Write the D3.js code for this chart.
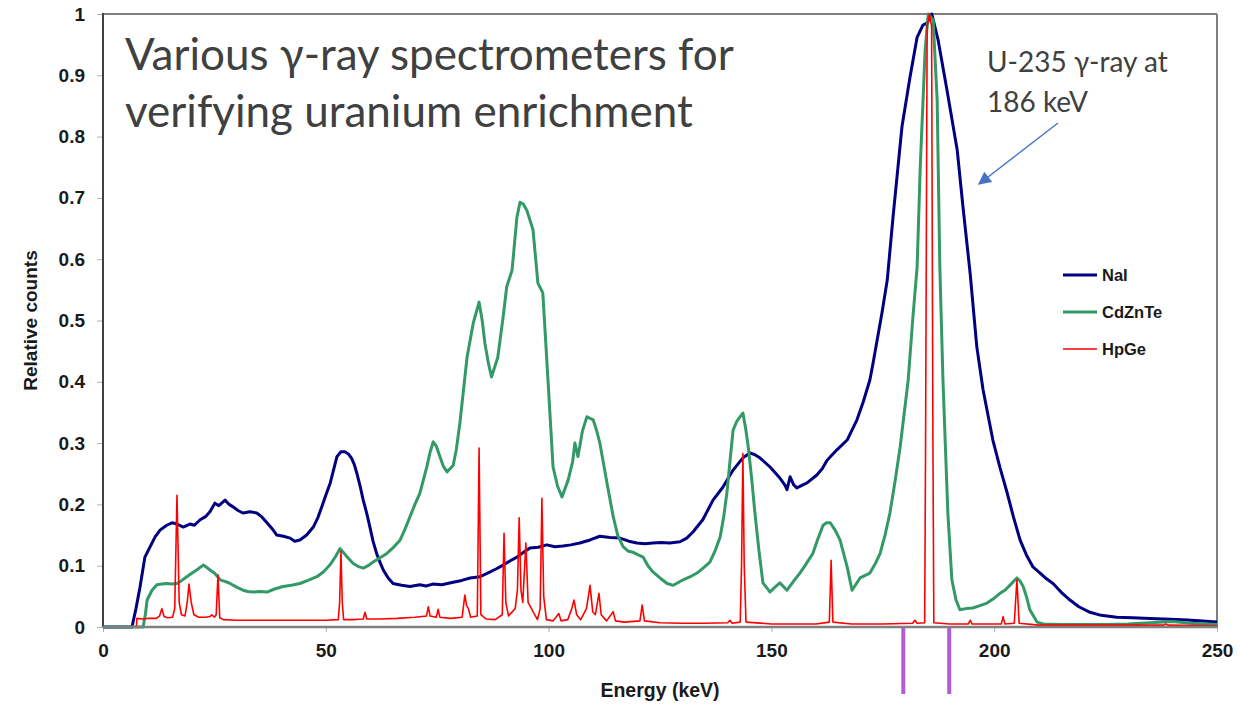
<!DOCTYPE html>
<html>
<head>
<meta charset="utf-8">
<script src="https://cdn.jsdelivr.net/npm/d3@7"></script>
<style>
  body { margin: 0; background: #fff; }
  svg { display: block; }
  .tick-label { font-family: "Liberation Sans", Arial, sans-serif; font-weight: bold; font-size: 19px; fill: #1a1a1a; }
</style>
</head>
<body>
<script>
// energy (keV), relative counts
var naiData = [[0,0],[6.5,0],[7.4,0.03],[8.3,0.065],[9.4,0.114],[10.5,0.13],[11.7,0.147],[12.8,0.158],[14.3,0.166],[15.5,0.17],[16.6,0.168],[18,0.163],[19.5,0.168],[20.5,0.166],[21.8,0.175],[23,0.18],[24,0.188],[25.1,0.202],[26,0.198],[27.4,0.207],[28.3,0.2],[29.2,0.196],[30.3,0.19],[31.4,0.186],[33,0.188],[34.5,0.186],[35.6,0.18],[36.8,0.17],[38,0.16],[39,0.15],[40.5,0.148],[42,0.145],[43,0.14],[44.2,0.142],[45.7,0.15],[47.2,0.163],[48.2,0.178],[49.1,0.196],[50,0.215],[51,0.235],[51.8,0.258],[52.5,0.278],[53.4,0.286],[54.3,0.286],[55.1,0.282],[55.8,0.275],[56.4,0.265],[57,0.25],[57.7,0.23],[58.4,0.207],[59.2,0.185],[59.9,0.163],[60.6,0.14],[61.4,0.12],[62.2,0.105],[62.9,0.093],[64,0.08],[65.1,0.071],[67,0.068],[68.9,0.066],[71.1,0.069],[72.5,0.067],[74,0.07],[76,0.069],[78.6,0.073],[80.5,0.076],[82.4,0.08],[84.6,0.082],[86.9,0.09],[88.3,0.095],[89.8,0.101],[91.4,0.108],[92.9,0.114],[94.4,0.122],[95.8,0.129],[97.7,0.13],[99.6,0.134],[101.4,0.131],[103.2,0.132],[105,0.134],[107,0.137],[109.3,0.142],[111.5,0.148],[113.8,0.146],[116,0.145],[118,0.14],[119.8,0.137],[121.6,0.136],[123.4,0.137],[125.3,0.138],[127.2,0.137],[129.5,0.139],[131,0.145],[132.4,0.155],[134.6,0.175],[136.9,0.207],[139.1,0.228],[141.4,0.256],[143.6,0.276],[145.2,0.284],[146.3,0.281],[147.4,0.276],[149.7,0.261],[151.9,0.243],[153,0.232],[153.5,0.224],[154.2,0.245],[155,0.232],[155.7,0.227],[158,0.235],[160.2,0.248],[161.4,0.258],[162.5,0.272],[164.7,0.289],[167,0.305],[169.2,0.338],[170.6,0.367],[172.1,0.403],[172.8,0.43],[174.8,0.512],[176,0.566],[177.3,0.669],[179.3,0.816],[181.1,0.897],[182.7,0.962],[184,0.982],[184.9,0.985],[186,1.0],[187.4,0.958],[189.4,0.876],[191.7,0.778],[193,0.685],[194.6,0.577],[196.1,0.457],[197.5,0.387],[199.7,0.305],[201.3,0.26],[202.9,0.219],[204.3,0.18],[205.8,0.142],[207.2,0.118],[208.7,0.098],[210.3,0.088],[211.5,0.08],[213.2,0.071],[215,0.057],[217,0.044],[219,0.033],[221.5,0.024],[224,0.019],[227.5,0.016],[231,0.015],[235,0.014],[238,0.013],[242.4,0.012],[246,0.01],[250,0.008]];

var czteData = [[0,0],[9,0],[9.5,0.02],[9.9,0.044],[11,0.06],[12.1,0.069],[13.2,0.07],[14.3,0.071],[15.5,0.07],[16.6,0.071],[17.7,0.076],[18.8,0.082],[20,0.088],[21,0.093],[22.5,0.101],[23.3,0.097],[24,0.093],[25,0.088],[26.3,0.077],[27.5,0.074],[28.5,0.071],[30,0.065],[31.4,0.06],[32.5,0.058],[33.7,0.057],[35.2,0.058],[36.8,0.057],[38.5,0.062],[40.4,0.066],[42.3,0.068],[44.2,0.071],[46,0.076],[48,0.082],[49.5,0.09],[50.9,0.101],[52.2,0.115],[53.2,0.128],[54.6,0.116],[56.1,0.104],[57.2,0.099],[58.4,0.096],[59.5,0.1],[60.6,0.106],[62,0.112],[63.7,0.12],[65.2,0.13],[66.7,0.142],[67.8,0.16],[68.9,0.18],[70,0.2],[71.1,0.218],[72.7,0.262],[73.4,0.285],[74.1,0.302],[74.8,0.295],[75.6,0.278],[76.4,0.262],[77.2,0.253],[78.6,0.264],[79.3,0.29],[80.1,0.333],[81.7,0.44],[83.1,0.496],[84.4,0.53],[85.1,0.5],[85.7,0.463],[86.5,0.43],[87.2,0.408],[88.6,0.44],[89.8,0.506],[90.6,0.555],[91.8,0.582],[92.4,0.63],[92.9,0.669],[93.6,0.693],[94.3,0.69],[95.1,0.68],[96.5,0.648],[97.6,0.561],[98.7,0.545],[99.9,0.398],[101,0.261],[102,0.23],[103,0.212],[104.4,0.24],[105.4,0.27],[105.9,0.3],[106.6,0.278],[107.6,0.32],[108.6,0.343],[110,0.338],[110.8,0.32],[111.5,0.3],[113.1,0.235],[114.5,0.18],[115.5,0.15],[116.7,0.131],[117.8,0.124],[118.9,0.122],[120,0.118],[121.2,0.114],[122.3,0.1],[123.4,0.09],[125,0.08],[126.6,0.071],[128,0.068],[130.2,0.077],[131.8,0.082],[133.3,0.088],[134.8,0.097],[136.2,0.106],[137.4,0.125],[138.5,0.147],[139.3,0.18],[140,0.218],[140.7,0.27],[141.4,0.321],[142.2,0.335],[143,0.343],[143.6,0.349],[144.2,0.325],[144.8,0.294],[145.6,0.24],[146.3,0.186],[147.2,0.125],[148.1,0.072],[149.7,0.057],[150.8,0.065],[151.9,0.072],[153.5,0.06],[155,0.075],[156.4,0.088],[157.8,0.103],[159.3,0.12],[160.5,0.145],[161.6,0.166],[162.4,0.17],[163.2,0.17],[164.3,0.158],[165.4,0.142],[166.2,0.12],[167,0.098],[168.1,0.06],[169.9,0.08],[172.1,0.088],[173.3,0.103],[174.4,0.12],[175.5,0.15],[176.6,0.186],[177.8,0.24],[178.9,0.294],[180.7,0.403],[181.7,0.5],[182.7,0.587],[183.4,0.75],[184.5,0.941],[185.2,1.0],[186.3,0.99],[187.2,0.86],[187.8,0.587],[188.5,0.403],[189.6,0.186],[190.5,0.077],[191.4,0.045],[192.3,0.028],[193.7,0.03],[195.2,0.031],[196.8,0.035],[198.4,0.039],[199.8,0.046],[201.3,0.055],[202.4,0.06],[203.5,0.068],[204.3,0.074],[205.1,0.08],[205.8,0.075],[206.5,0.066],[207.3,0.048],[208,0.028],[209.6,0.008],[211,0.005],[215,0.004],[220,0.004],[225,0.004],[230,0.005],[235,0.007],[240,0.009],[244,0.006],[250,0.004]];

var hpgeData = [[0,0],[7.5,0],[7.6,0.014],[9,0.013],[10,0.014],[12,0.014],[12.7,0.018],[13.2,0.03],[13.7,0.017],[14.5,0.015],[15.6,0.016],[16.1,0.03],[16.6,0.215],[17.1,0.04],[17.6,0.02],[18.4,0.018],[18.9,0.04],[19.3,0.07],[19.8,0.04],[20.4,0.02],[21.5,0.016],[23,0.016],[24,0.017],[24.4,0.02],[25,0.016],[25.4,0.02],[25.8,0.085],[26.2,0.015],[27,0.012],[30,0.011],[35,0.011],[40,0.011],[45,0.011],[50,0.011],[52.8,0.012],[53.1,0.04],[53.4,0.123],[53.7,0.04],[54,0.012],[56,0.012],[58.4,0.013],[58.8,0.024],[59.2,0.013],[62,0.013],[66,0.014],[70,0.016],[72.6,0.018],[73,0.033],[73.4,0.018],[74.8,0.016],[75.2,0.029],[75.6,0.016],[78,0.014],[80.6,0.016],[81.2,0.052],[81.6,0.035],[82,0.03],[82.5,0.016],[84,0.018],[84.4,0.292],[84.8,0.02],[86,0.013],[88,0.012],[89.6,0.02],[90,0.153],[90.4,0.04],[91,0.018],[92.5,0.03],[93,0.06],[93.4,0.178],[93.8,0.06],[94.2,0.04],[94.9,0.137],[95.4,0.04],[96,0.032],[96.5,0.025],[97.5,0.012],[98.1,0.03],[98.5,0.21],[98.9,0.05],[99.5,0.012],[101,0.01],[102.3,0.022],[102.8,0.01],[104.3,0.012],[105.2,0.03],[105.7,0.044],[106.3,0.02],[107.2,0.012],[108.5,0.03],[109.3,0.068],[109.9,0.025],[110.5,0.02],[111.3,0.055],[111.8,0.02],[113,0.01],[114.5,0.025],[115,0.01],[117,0.008],[120.5,0.01],[121,0.036],[121.5,0.01],[125,0.007],[130,0.006],[135,0.006],[140.2,0.007],[140.7,0.011],[141.2,0.006],[143,0.008],[143.3,0.1],[143.6,0.283],[143.9,0.1],[144.3,0.008],[150,0.005],[155,0.005],[160,0.005],[163,0.008],[163.4,0.109],[163.8,0.008],[168,0.005],[175,0.005],[181.7,0.006],[182.2,0.011],[182.7,0.006],[184.4,0.007],[184.6,0.3],[184.95,0.98],[185.45,1.0],[185.95,0.98],[186.25,0.3],[186.45,0.007],[190,0.005],[194.2,0.005],[194.6,0.011],[195,0.005],[201.6,0.005],[202,0.017],[202.4,0.005],[204.5,0.006],[205.1,0.077],[205.6,0.006],[210,0.003],[220,0.003],[230,0.003],[238,0.003],[238.5,0.005],[239,0.003],[250,0.002]];

var seriesNames = ['NaI', 'CdZnTe', 'HpGe'];
var seriesColors = ['#000080', '#339966', '#ff0000'];
var seriesWidths = [3, 3, 1.6];
var xTicks = [0, 50, 100, 150, 200, 250];
var yTicks = [0, 0.1, 0.2, 0.3, 0.4, 0.5, 0.6, 0.7, 0.8, 0.9, 1];
var yTickLabels = ['0', '0.1', '0.2', '0.3', '0.4', '0.5', '0.6', '0.7', '0.8', '0.9', '1'];
var windowMarks = [179.6, 189.9]; // purple markers under the axis
var titleLines = ['Various \u03b3-ray spectrometers for', 'verifying uranium enrichment'];
var noteLines = ['U-235 \u03b3-ray at', '186 keV'];

(function () {
	var W = 1240, H = 705;
	var plotL = 103, plotR = 1217, plotT = 14, plotB = 627;

	var svg = d3.select('body').append('svg').attr('width', W).attr('height', H);

	var x = d3.scaleLinear().domain([0, 250]).range([plotL, plotR]);
	var y = d3.scaleLinear().domain([0, 1]).range([plotB, plotT]);

	// frame (top and right)
	svg.append('line').attr('x1', plotL).attr('x2', plotR).attr('y1', plotT).attr('y2', plotT)
		.attr('stroke', '#808080').attr('stroke-width', 2);
	svg.append('line').attr('x1', plotR).attr('x2', plotR).attr('y1', plotT).attr('y2', plotB)
		.attr('stroke', '#808080').attr('stroke-width', 2);

	// y axis
	var yAxisEl = svg.append('g')
		.attr('transform', 'translate(' + plotL + ',0)')
		.call(d3.axisLeft(y).tickValues(yTicks).tickSize(6).tickPadding(12)
			.tickFormat(function (d, i) { return yTickLabels[i]; }));
	yAxisEl.select('.domain').remove();
	yAxisEl.selectAll('line').attr('stroke', '#b0b0b0').attr('stroke-width', 1);
	yAxisEl.selectAll('text').attr('class', 'tick-label').attr('fill', null);
	yAxisEl.attr('font-family', null).attr('font-size', null);
	svg.append('line').attr('x1', plotL).attr('x2', plotL).attr('y1', plotT - 1).attr('y2', plotB)
		.attr('stroke', '#404040').attr('stroke-width', 2);

	// x axis
	var xAxisEl = svg.append('g')
		.attr('transform', 'translate(0,' + plotB + ')')
		.call(d3.axisBottom(x).tickValues(xTicks).tickSize(5).tickPadding(12).tickFormat(d3.format('d')));
	xAxisEl.select('.domain').remove();
	xAxisEl.selectAll('line').attr('stroke', '#b0b0b0').attr('stroke-width', 1);
	xAxisEl.selectAll('text').attr('class', 'tick-label').attr('fill', null);
	xAxisEl.attr('font-family', null).attr('font-size', null);

	// axis titles
	svg.append('text').attr('class', 'tick-label').attr('x', (plotL + plotR) / 2).attr('y', 697)
		.attr('text-anchor', 'middle').style('font-size', '19.5px').text('Energy (keV)');
	svg.append('text').attr('class', 'tick-label')
		.attr('transform', 'translate(37,' + ((plotT + plotB) / 2) + ') rotate(-90)')
		.attr('text-anchor', 'middle').style('font-size', '19px').text('Relative counts');

	// spectra
	var line = d3.line().x(function (d) { return x(d[0]); }).y(function (d) { return y(d[1]); });
	[naiData, czteData, hpgeData].forEach(function (data, i) {
		svg.append('path').datum(data)
			.attr('fill', 'none')
			.attr('stroke', seriesColors[i])
			.attr('stroke-width', seriesWidths[i])
			.attr('stroke-linejoin', 'round')
			.attr('d', line);
	});

	// bottom axis line drawn over the traces
	svg.append('line').attr('x1', plotL).attr('x2', plotR + 1).attr('y1', plotB).attr('y2', plotB)
		.attr('stroke', '#808080').attr('stroke-width', 2.5);

	// purple window markers
	svg.selectAll('.mark').data(windowMarks).enter().append('line')
		.attr('class', 'mark')
		.attr('x1', function (d) { return x(d); }).attr('x2', function (d) { return x(d); })
		.attr('y1', plotB + 1).attr('y2', 694)
		.attr('stroke', '#b35ad8').attr('stroke-width', 4);

	// legend
	var legend = svg.append('g').attr('transform', 'translate(1063,275)');
	seriesNames.forEach(function (name, i) {
		var g = legend.append('g').attr('transform', 'translate(0,' + (i * 37) + ')');
		g.append('line').attr('x1', 0).attr('x2', 34).attr('y1', 0).attr('y2', 0)
			.attr('stroke', seriesColors[i]).attr('stroke-width', seriesWidths[i]);
		g.append('text').attr('x', 39).attr('y', 6)
			.attr('font-family', '"Liberation Sans", Arial, sans-serif').attr('font-weight', 'bold')
			.attr('font-size', 16.5).attr('fill', '#1a1a1a').text(name);
	});

	// title
	var title = svg.append('text').attr('font-family', 'Lato, "Open Sans", sans-serif')
		.attr('font-size', 44).attr('fill', '#404040');
	titleLines.forEach(function (t, i) {
		title.append('tspan').attr('x', 125).attr('y', 70 + i * 57).text(t);
	});

	// annotation
	var note = svg.append('text').attr('font-family', 'Lato, "Open Sans", sans-serif')
		.attr('font-size', 28).attr('fill', '#404040');
	noteLines.forEach(function (t, i) {
		note.append('tspan').attr('x', 987).attr('y', 72 + i * 40).text(t);
	});

	// arrow
	svg.append('defs').append('marker')
		.attr('id', 'arrowHead').attr('viewBox', '0 0 10 10').attr('refX', 9).attr('refY', 5)
		.attr('markerWidth', 14).attr('markerHeight', 13).attr('markerUnits', 'userSpaceOnUse')
		.attr('orient', 'auto')
		.append('path').attr('d', 'M0,0 L10,5 L0,10 Z').attr('fill', '#4472c4');
	svg.append('line').attr('x1', 1058).attr('y1', 123).attr('x2', 979).attr('y2', 184)
		.attr('stroke', '#4472c4').attr('stroke-width', 1.3).attr('marker-end', 'url(#arrowHead)');
})();
</script>
</body>
</html>
